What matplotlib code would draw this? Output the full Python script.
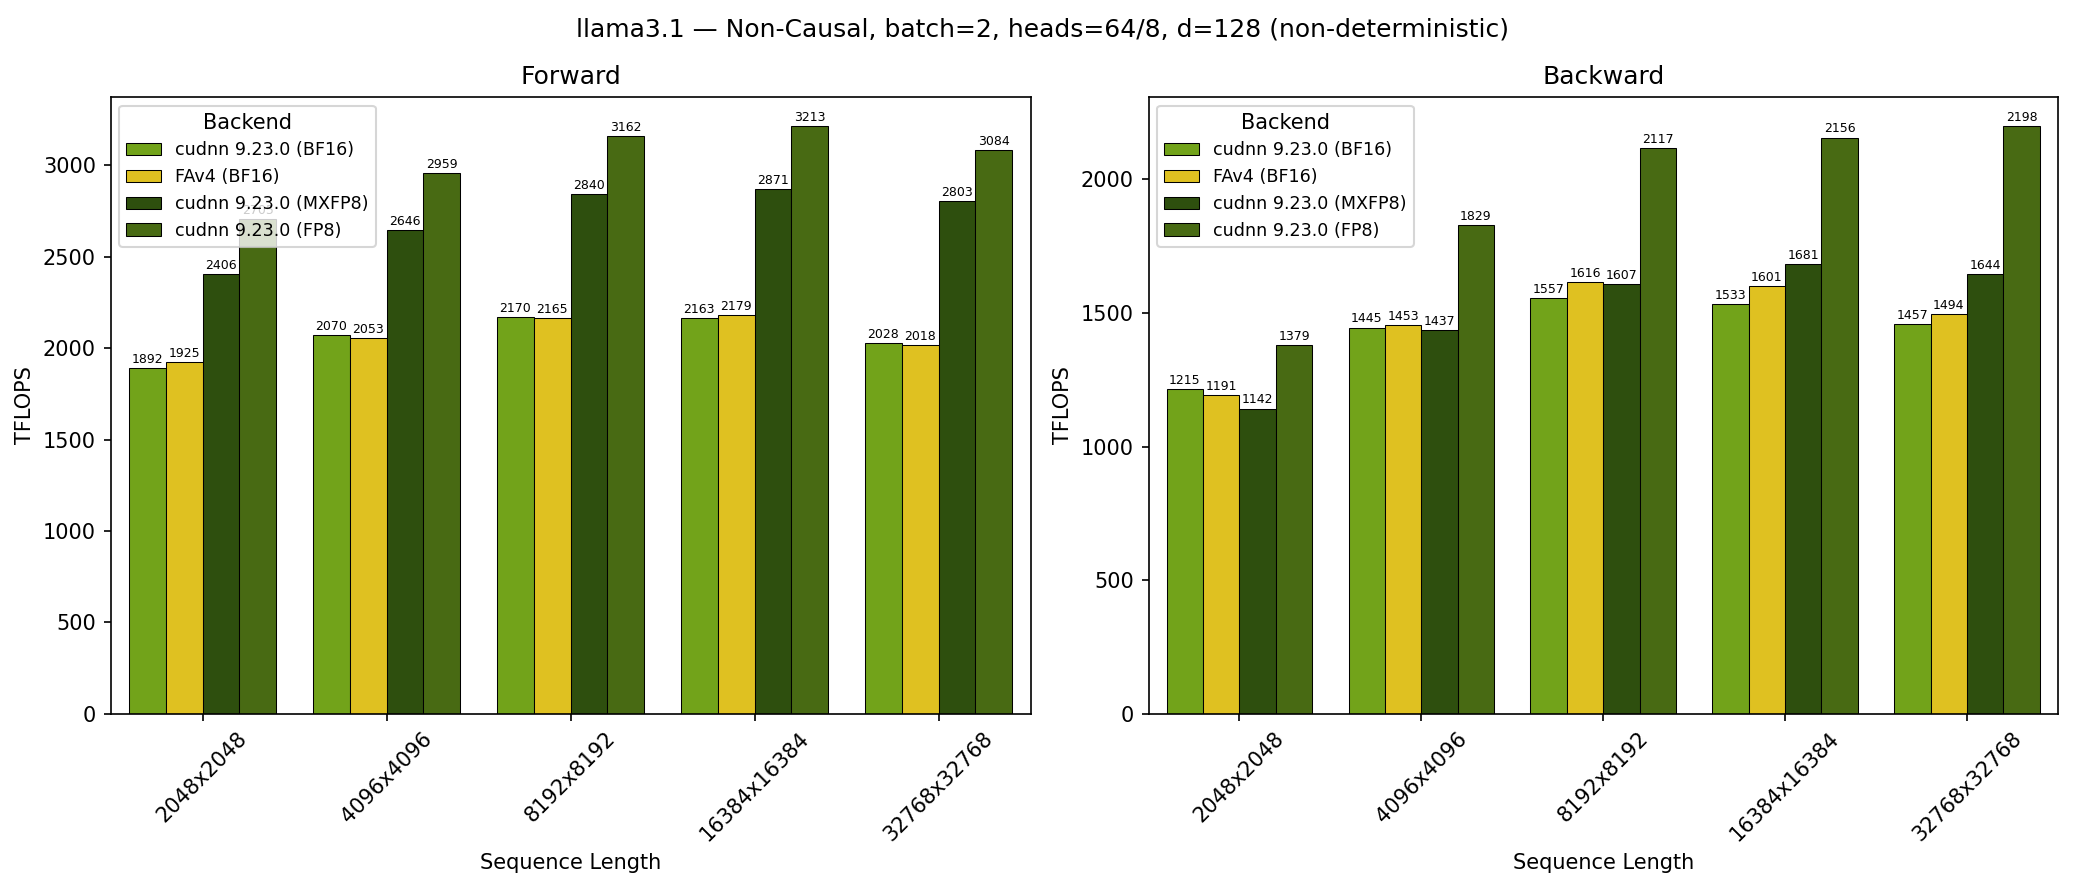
import numpy as np
import matplotlib.pyplot as plt

seq_lens = ['2048x2048', '4096x4096', '8192x8192', '16384x16384', '32768x32768']
backends = ['cudnn 9.23.0 (BF16)', 'FAv4 (BF16)', 'cudnn 9.23.0 (MXFP8)', 'cudnn 9.23.0 (FP8)']
colors = ['#72a31a', '#dfc121', '#2e4f0e', '#486a13']

fwd_bf16 = [1892, 2070, 2170, 2163, 2028]
fwd_fav4 = [1925, 2053, 2165, 2179, 2018]
fwd_mxfp8 = [2406, 2646, 2840, 2871, 2803]
fwd_fp8 = [2705, 2959, 3162, 3213, 3084]

bwd_bf16 = [1215, 1445, 1557, 1533, 1457]
bwd_fav4 = [1191, 1453, 1616, 1601, 1494]
bwd_mxfp8 = [1142, 1437, 1607, 1681, 1644]
bwd_fp8 = [1379, 1829, 2117, 2156, 2198]


def draw(ax, series, title):
    x = np.arange(len(seq_lens))
    w = 0.2
    for i, (name, vals) in enumerate(zip(backends, series)):
        bars = ax.bar(x + (i - 1.5) * w, vals, w, label=name, color=colors[i],
                      edgecolor='black', linewidth=0.5)
        ax.bar_label(bars, labels=[f'{v}' for v in vals], fontsize=6, padding=1)
    ax.set_xticks(x)
    ax.set_xticklabels(seq_lens, rotation=45)
    ax.set_xlim(-0.5, len(seq_lens) - 0.5)
    ax.set_xlabel('Sequence Length')
    ax.set_ylabel('TFLOPS')
    ax.set_title(title)
    ax.legend(title='Backend', loc='upper left', fontsize=8.4, title_fontsize=10)


fig, axes = plt.subplots(1, 2, figsize=(2085 / 150, 889 / 150), dpi=150,
                         gridspec_kw={'width_ratios': [692, 684]})
draw(axes[0], [fwd_bf16, fwd_fav4, fwd_mxfp8, fwd_fp8], 'Forward')
draw(axes[1], [bwd_bf16, bwd_fav4, bwd_mxfp8, bwd_fp8], 'Backward')
fig.suptitle('llama3.1 \u2014 Non-Causal, batch=2, heads=64/8, d=128 (non-deterministic)')
fig.subplots_adjust(left=0.053, right=0.987, top=0.891, bottom=0.197, wspace=0.129)
fig.savefig('out.png', dpi=150)
